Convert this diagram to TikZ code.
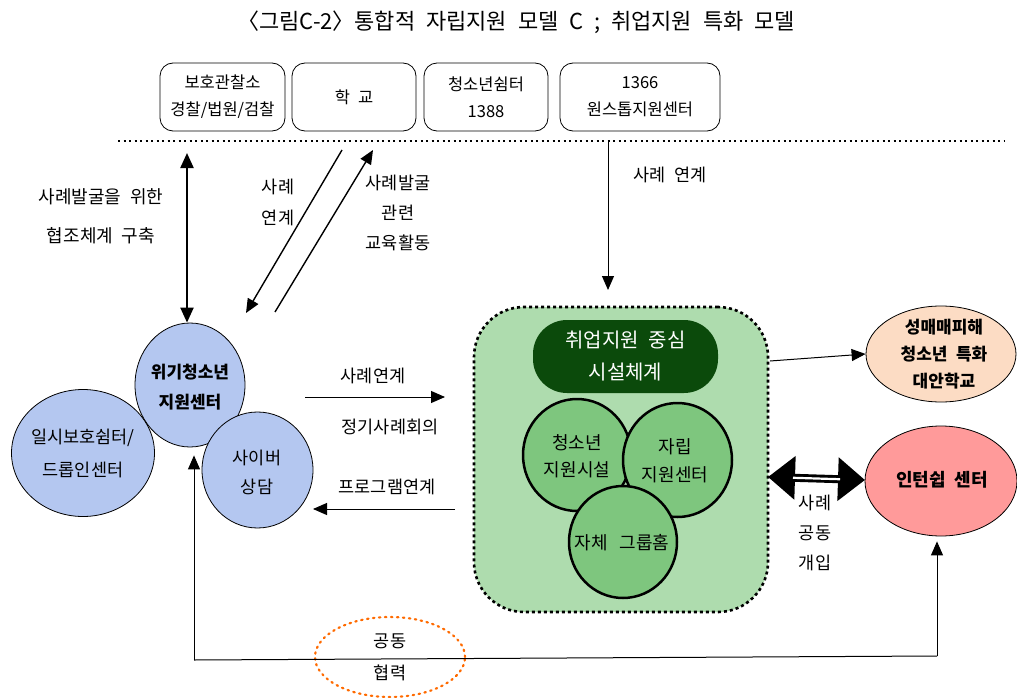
\documentclass[tikz,border=0pt]{standalone}
\usepackage{fontspec}
\setmainfont{Noto Sans CJK KR}[WordSpace=2.2]
\usetikzlibrary{arrows.meta,shapes.geometric}
\definecolor{blueF}{HTML}{B4C7F0}
\definecolor{lightgreen}{HTML}{AEDCAE}
\definecolor{midgreen}{HTML}{7EC67E}
\definecolor{darkgreen}{HTML}{0B4A0B}
\definecolor{peach}{HTML}{FCDCC4}
\definecolor{salmon}{HTML}{FF9A9A}
\definecolor{dotorange}{HTML}{FF6A00}
\begin{document}
\begin{tikzpicture}[x=1pt,y=-1pt,
  lbl/.style={inner sep=0, align=center, font=\fontsize{17.5}{30}\selectfont},
  topbox/.style={draw, line width=0.8pt, rounded corners=13pt, minimum height=68pt, inner sep=0, align=center, font=\fontsize{16.5}{27}\selectfont},
  bcirc/.style={ellipse, draw, fill=blueF, line width=0.8pt, inner sep=0},
  gcirc/.style={ellipse, draw, fill=midgreen, line width=2.5pt, inner sep=0},
  arr/.style={-{Triangle[length=14pt,width=12pt]}, line width=1pt},
  darr/.style={{Triangle[length=15pt,width=13pt]}-{Triangle[length=15pt,width=13pt]}, line width=2.2pt},
]
\useasboundingbox (0,0) rectangle (1017,698);

% title
\node[inner sep=0, font=\fontsize{22}{24}\selectfont] (title) at (516,22) {〈그림C-2〉\kern-0.5em{} 통합적 자립지원 모델 C ; 취업지원 특화 모델};

% top boxes
\node[topbox, minimum width=125] (t1) at (222.5,97) {보호관찰소\\경찰/법원/검찰};
\node[topbox, minimum width=124] (t2) at (354,97) {학 교};
\node[topbox, minimum width=124] (t3) at (486,97) {청소년쉼터\\1388};
\node[topbox, minimum width=160] (t4) at (640,97) {1366\\원스톱지원센터};

% dotted separator
\coordinate (dl) at (118,141);
\coordinate (dr) at (1005,141);
\draw[line width=2pt, dash pattern=on 2pt off 3.5pt] (dl) -- (dr);

% blue circles
\node[bcirc, minimum width=143, minimum height=127] (cB) at (83,453) {};
\node[bcirc, minimum width=110, minimum height=124] (cA) at (190,385) {};
\node[bcirc, minimum width=111, minimum height=116] (cC) at (257.5,470) {};
\node[lbl, font=\fontsize{17.5}{33}\selectfont] (cBt) at (cB) {일시보호쉼터/\\드롭인센터};
\node[lbl, font=\bfseries\fontsize{17}{30}\selectfont] (cAt) at (190,387) {위기청소년\\지원센터};
\node[lbl, font=\fontsize{17.5}{29}\selectfont] (cCt) at (257,472.5) {사이버\\상담};

% left vertical double arrow
\coordinate (va) at (187,153);
\draw[darr] (va) -- (va |- cA.north);
\node[lbl, font=\fontsize{18}{39}\selectfont] (lk) at (101,216.5) {사례발굴을 위한\\협조체계 구축};

% diagonal arrows
\coordinate (d1s) at (342,150);
\coordinate (d1e) at (246,313);
\coordinate (d2s) at (275,312);
\coordinate (d2e) at (373,150);
\draw[arr, line width=1.4pt] (d1s) -- (d1e);
\draw[arr, line width=1.4pt] (d2s) -- (d2e);
\node[lbl, font=\fontsize{17.5}{31}\selectfont] (ld1) at (278,202.5) {사례\\연계};
\node[lbl, font=\fontsize{17.5}{30}\selectfont] (ld2) at (398,213) {사례발굴\\관련\\교육활동};

% green system box
\node[draw, fill=lightgreen, rounded corners=50pt, minimum width=294, minimum height=305, line width=2.6pt, dash pattern=on 3pt off 3pt, inner sep=0] (gbox) at (621,459.5) {};
\node[fill=darkgreen, rounded corners=34pt, minimum width=185, minimum height=73, inner sep=0, text=white, align=center, font=\fontsize{20}{32}\selectfont] (pill) at (625.5,356.5) {취업지원 중심\\시설체계};
\node[gcirc, minimum width=108, minimum height=112] (g1) at (577,455) {};
\node[gcirc, minimum width=109, minimum height=114] (g2) at (677.5,460) {};
\node[gcirc, minimum width=108, minimum height=112] (g3) at (623,542) {};
\node[lbl, font=\fontsize{18}{27}\selectfont] (g1t) at (577,456.5) {청소년\\지원시설};
\node[lbl, font=\fontsize{18}{28}\selectfont] (g2t) at (675,461) {자립\\지원센터};
\node[lbl, font=\fontsize{18}{28}\selectfont] (g3t) at (622,543) {자체\hspace{3pt} 그룹홈};

% top-right arrow into green box
\coordinate (sr1) at (608,141);
\coordinate (sr2) at (608,290);
\draw[arr] (sr1) -- (sr2);
\node[lbl] (lsr) at (670,175) {사례 연계};

% middle arrows
\coordinate (m1s) at (305,397);
\coordinate (m1e) at (445,397);
\coordinate (m2s) at (455,509);
\coordinate (m2e) at (313,509);
\draw[arr] (m1s) -- (m1e);
\draw[arr] (m2s) -- (m2e);
\node[lbl] (lm1) at (373,376) {사례연계};
\node[lbl] (lm2) at (390,427) {정기사례회의};
\node[lbl] (lm3) at (387,487) {프로그램연계};

% right ellipses
\node[ellipse, draw, fill=peach, line width=0.8pt, minimum width=150, minimum height=96, inner sep=0] (sm) at (941,354) {};
\node[lbl, font=\bfseries\fontsize{17}{27}\selectfont] (smt) at (944,354) {성매매피해\\청소년 특화\\대안학교};
\node[ellipse, draw, fill=salmon, line width=0.8pt, minimum width=152, minimum height=110, inner sep=0] (it) at (941,481) {};
\node[lbl, font=\bfseries\fontsize{18}{27}\selectfont] (itt) at (942,480) {인턴쉽 센터};

% green box -> school
\coordinate (gs) at (770,361);
\draw[arr] (gs) -- (sm.west);

% thick double arrow
\coordinate (da) at (768,477);
\coordinate (db) at (865,480);
\draw[line width=8pt, {Triangle[length=27pt,width=42pt]}-{Triangle[length=27pt,width=42pt]}] (da) -- (db);
\draw[white, line width=2.2pt, shorten <=25pt, shorten >=25pt] (da) -- (db);
\node[lbl, font=\fontsize{17.5}{30}\selectfont] (lda) at (815,533) {사례\\공동\\개입};

% bottom cooperation line
\coordinate (bl) at (194,660);
\coordinate (br) at (937,656);
\node[ellipse, draw=dotorange, line width=2.2pt, dash pattern=on 1.5pt off 4.5pt, line cap=round, minimum width=150, minimum height=80, inner sep=0] (oc) at (390,657) {};
\draw[line width=1pt] (bl) -- (br);
\draw[arr] (bl) -- ([yshift=-8pt]bl |- cA.south);
\draw[arr] (br) -- ([yshift=-5pt]br |- it.south);
\node[lbl, font=\fontsize{17.5}{32}\selectfont] (oct) at (390,657) {공동\\협력};
\end{tikzpicture}
\end{document}
